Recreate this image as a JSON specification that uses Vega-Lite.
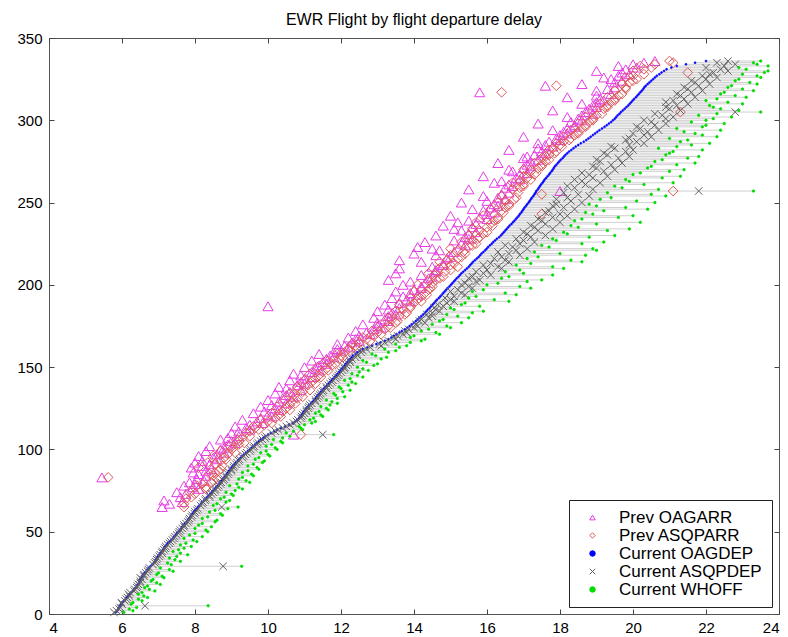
{
"$schema": "https://vega.github.io/schema/vega-lite/v6.json",
"width": 730, "height": 576,
"autosize": {"type": "none"},
"padding": {"left": 49, "top": 38, "right": 9, "bottom": 23},
"background": "white",
"title": {"text": "EWR Flight by flight departure delay", "fontSize": 16, "fontWeight": "normal", "font": "Liberation Sans", "color": "black", "anchor": "middle", "offset": 3},
"config": {
  "view": {"stroke": "#555", "strokeWidth": 1},
  "axis": {"grid": false, "domain": false, "tickColor": "#444", "tickWidth": 1, "tickSize": -5, "labelFontSize": 15, "labelFont": "Liberation Sans", "labelColor": "black", "title": null},
  "legend": {"orient": "bottom-right", "offset": 7, "title": null, "labelFont": "Liberation Sans", "labelFontSize": 17, "labelColor": "black", "symbolSize": 30, "symbolStrokeWidth": 1, "fillColor": "white", "strokeColor": "#222", "padding": 9, "rowPadding": 0, "symbolOffset": 6, "labelOffset": 18}
},
"data": {"values": [
{"y":1,"o":5.83,"a":5.78,"w":6.05},
{"y":2,"o":5.87,"a":5.85,"w":6.3},
{"y":3,"o":5.9,"a":5.92,"w":6.2},
{"y":4,"o":5.92,"a":5.95,"w":6.4},
{"y":5,"o":5.95,"a":6.63,"w":8.36},
{"y":6,"o":5.98,"a":6.0,"w":6.25},
{"y":7,"o":6.0,"a":5.98,"w":6.3},
{"y":8,"o":6.05,"a":6.08,"w":6.55},
{"y":9,"o":6.1,"a":6.12,"w":6.45},
{"y":10,"o":6.13,"a":6.15,"w":6.7},
{"y":11,"o":6.17,"a":6.2,"w":6.6},
{"y":12,"o":6.2,"a":6.18,"w":6.45},
{"y":13,"o":6.25,"a":6.22,"w":6.55},
{"y":14,"o":6.3,"a":6.33,"w":6.9},
{"y":15,"o":6.33,"a":6.35,"w":6.75},
{"y":16,"o":6.37,"a":6.4,"w":6.62},
{"y":17,"o":6.4,"a":6.42,"w":6.7},
{"y":18,"o":6.43,"a":6.45,"w":7.05},
{"y":19,"o":6.47,"a":6.5,"w":6.95},
{"y":20,"o":6.48,"a":6.5,"w":6.8},
{"y":21,"o":6.5,"a":6.55,"w":6.85},
{"y":22,"o":6.52,"a":6.5,"w":7.15},
{"y":23,"o":6.55,"a":6.6,"w":7.1},
{"y":24,"o":6.58,"a":6.6,"w":6.95},
{"y":25,"o":6.62,"a":6.65,"w":7.0},
{"y":26,"o":6.67,"a":6.7,"w":7.4},
{"y":27,"o":6.7,"a":6.72,"w":7.3},
{"y":28,"o":6.73,"a":6.75,"w":7.05},
{"y":29,"o":6.78,"a":8.77,"w":9.28},
{"y":30,"o":6.83,"a":6.85,"w":7.35},
{"y":31,"o":6.87,"a":6.9,"w":7.25},
{"y":32,"o":6.9,"a":6.92,"w":7.6},
{"y":33,"o":6.92,"a":6.95,"w":7.45},
{"y":34,"o":6.95,"a":6.97,"w":7.3},
{"y":35,"o":6.98,"a":7.02,"w":7.5},
{"y":36,"o":7.02,"a":7.05,"w":7.8},
{"y":37,"o":7.05,"a":7.1,"w":7.6},
{"y":38,"o":7.08,"a":7.1,"w":7.4},
{"y":39,"o":7.12,"a":7.15,"w":7.55},
{"y":40,"o":7.15,"a":7.18,"w":7.7},
{"y":41,"o":7.18,"a":7.2,"w":7.9},
{"y":42,"o":7.22,"a":7.25,"w":7.6},
{"y":43,"o":7.25,"a":7.3,"w":7.75},
{"y":44,"o":7.3,"a":7.33,"w":8.05},
{"y":45,"o":7.35,"a":7.38,"w":7.95},
{"y":46,"o":7.4,"a":7.42,"w":7.7},
{"y":47,"o":7.43,"a":7.45,"w":8.2},
{"y":48,"o":7.47,"a":7.5,"w":7.85},
{"y":49,"o":7.5,"a":7.55,"w":8.0},
{"y":50,"o":7.55,"a":7.57,"w":8.35},
{"y":51,"o":7.58,"a":7.6,"w":8.3},
{"y":52,"o":7.62,"a":7.65,"w":8.0},
{"y":53,"o":7.65,"a":7.7,"w":8.45},
{"y":54,"o":7.68,"a":7.7,"w":8.1},
{"y":55,"o":7.72,"a":7.75,"w":8.2},
{"y":56,"o":7.77,"a":7.8,"w":8.55},
{"y":57,"o":7.8,"a":7.83,"w":8.6},
{"y":58,"o":7.83,"a":7.85,"w":8.2},
{"y":59,"o":7.87,"a":7.9,"w":8.35},
{"y":60,"o":7.9,"a":7.92,"w":8.75},
{"y":61,"o":7.93,"a":7.98,"w":8.7},
{"y":62,"o":7.97,"a":8.0,"w":8.4},
{"y":63,"o":8.0,"a":8.05,"w":8.55},
{"y":64,"o":8.04,"a":8.08,"w":8.9},
{"y":65,"o":8.08,"a":8.73,"w":9.18,"p":7.1,"q":7.7},
{"y":66,"o":8.12,"a":8.15,"w":8.5},
{"y":67,"o":8.17,"a":8.2,"w":8.6,"p":7.3,"q":7.7},
{"y":68,"o":8.2,"a":8.22,"w":8.85,"p":7.65},
{"y":69,"o":8.25,"a":8.28,"w":8.95,"p":7.15},
{"y":70,"o":8.29,"a":8.3,"w":8.7,"q":7.75},
{"y":71,"o":8.33,"a":8.4,"w":8.8,"p":7.6,"q":7.9},
{"y":72,"o":8.37,"a":8.4,"w":9.05},
{"y":73,"o":8.42,"a":8.45,"w":9.0,"p":7.75,"q":8.0},
{"y":74,"o":8.46,"a":8.5,"w":8.85,"p":7.5,"q":7.85},
{"y":75,"o":8.5,"a":8.55,"w":9.1},
{"y":76,"o":8.54,"a":8.56,"w":9.3,"p":8.1,"q":8.3},
{"y":77,"o":8.58,"a":8.62,"w":9.2,"p":7.95,"q":8.3},
{"y":78,"o":8.62,"a":8.65,"w":8.95,"p":7.7,"q":8.05},
{"y":79,"o":8.67,"a":8.7,"w":9.15,"p":8.0,"q":8.2},
{"y":80,"o":8.7,"a":8.72,"w":9.5,"p":7.85,"q":8.45},
{"y":81,"o":8.73,"a":8.78,"w":9.4,"p":8.25,"q":8.5},
{"y":82,"o":8.77,"a":8.8,"w":9.2,"p":8.05,"q":8.6},
{"y":83,"o":8.8,"a":8.85,"w":9.3,"p":5.45,"q":5.62},
{"y":84,"o":8.83,"a":8.85,"w":9.6,"p":8.3,"q":8.5},
{"y":85,"o":8.87,"a":8.9,"w":9.55,"p":8.1,"q":8.4},
{"y":86,"o":8.9,"a":8.93,"w":9.3,"p":7.95,"q":8.55},
{"y":87,"o":8.93,"a":9.0,"w":9.45,"p":8.3,"q":8.65},
{"y":88,"o":8.97,"a":9.0,"w":9.75,"p":8.45,"q":8.7},
{"y":89,"o":9.0,"a":9.05,"w":9.7,"p":7.9,"q":8.1},
{"y":90,"o":9.04,"a":9.07,"w":9.45,"p":8.2,"q":8.75},
{"y":91,"o":9.08,"a":9.12,"w":9.6,"p":8.4,"q":8.55},
{"y":92,"o":9.12,"a":9.15,"w":9.85,"p":8.0,"q":8.35},
{"y":93,"o":9.17,"a":9.2,"w":9.9,"p":8.2,"q":8.7},
{"y":94,"o":9.2,"a":9.22,"w":9.65,"p":8.6,"q":8.85},
{"y":95,"o":9.25,"a":9.3,"w":9.75,"p":8.5,"q":8.8},
{"y":96,"o":9.3,"a":9.33,"w":10.05,"p":8.1,"q":8.5},
{"y":97,"o":9.35,"a":9.38,"w":10.0,"p":8.6,"q":8.9},
{"y":98,"o":9.4,"a":9.42,"w":9.8,"p":8.8,"q":9.1},
{"y":99,"o":9.45,"a":9.5,"w":9.95,"p":8.3,"q":8.7},
{"y":100,"o":9.5,"a":9.53,"w":10.25,"p":8.7,"q":9.0},
{"y":101,"o":9.55,"a":9.6,"w":10.2,"p":8.8,"q":9.05},
{"y":102,"o":9.6,"a":9.62,"w":9.95,"p":8.4,"q":8.95},
{"y":103,"o":9.65,"a":9.7,"w":10.1,"p":8.9,"q":9.2},
{"y":104,"o":9.7,"a":9.73,"w":10.4,"p":9.1,"q":9.35},
{"y":105,"o":9.75,"a":9.8,"w":10.35,"p":9.0,"q":9.2},
{"y":106,"o":9.8,"a":9.85,"w":10.15,"p":8.7,"q":9.15},
{"y":107,"o":9.87,"a":9.92,"w":10.4,"p":8.9,"q":9.3},
{"y":108,"o":9.93,"a":9.95,"w":10.6,"p":9.2,"q":9.5},
{"y":109,"o":10.0,"a":11.5,"w":11.8,"p":10.7,"q":10.9},
{"y":110,"o":10.08,"a":10.1,"w":10.5,"p":9.0,"q":9.4},
{"y":111,"o":10.17,"a":10.2,"w":10.7,"p":9.2,"q":9.5},
{"y":112,"o":10.25,"a":10.28,"w":10.95,"p":9.5,"q":9.75},
{"y":113,"o":10.35,"a":10.4,"w":10.9,"p":9.4,"q":9.65},
{"y":114,"o":10.47,"a":10.5,"w":10.85,"p":9.1,"q":9.6},
{"y":115,"o":10.58,"a":10.6,"w":11.0,"p":9.5,"q":9.9},
{"y":116,"o":10.68,"a":10.7,"w":11.2,"p":9.85,"q":10.1},
{"y":117,"o":10.75,"a":10.78,"w":11.3,"p":9.7,"q":10.0},
{"y":118,"o":10.8,"a":10.82,"w":11.15,"p":9.3,"q":9.8},
{"y":119,"o":10.85,"a":10.9,"w":11.25,"p":9.8,"q":10.2},
{"y":120,"o":10.88,"a":10.92,"w":11.5,"p":10.1,"q":10.35},
{"y":121,"o":10.92,"a":10.95,"w":11.45,"p":10.0,"q":10.3},
{"y":122,"o":10.95,"a":11.0,"w":11.3,"p":9.6,"q":10.1},
{"y":123,"o":10.98,"a":11.05,"w":11.4,"p":9.9,"q":10.4},
{"y":124,"o":11.02,"a":11.05,"w":11.65,"p":10.3,"q":10.6},
{"y":125,"o":11.05,"a":11.1,"w":11.6,"p":10.2,"q":10.5},
{"y":126,"o":11.1,"a":11.12,"w":11.45,"p":9.8,"q":10.25},
{"y":127,"o":11.13,"a":11.15,"w":11.7,"p":10.1,"q":10.6},
{"y":128,"o":11.18,"a":11.2,"w":11.9,"p":10.5,"q":10.75},
{"y":129,"o":11.22,"a":11.3,"w":11.75,"p":10.3,"q":10.65},
{"y":130,"o":11.26,"a":11.3,"w":11.6,"p":10.0,"q":10.45},
{"y":131,"o":11.3,"a":11.35,"w":11.9,"p":10.4,"q":10.8},
{"y":132,"o":11.33,"a":11.38,"w":12.1,"p":10.7,"q":10.95},
{"y":133,"o":11.37,"a":11.42,"w":11.85,"p":10.5,"q":10.7},
{"y":134,"o":11.41,"a":11.45,"w":11.8,"p":10.2,"q":10.6},
{"y":135,"o":11.45,"a":11.5,"w":12.05,"p":10.6,"q":10.95},
{"y":136,"o":11.49,"a":11.52,"w":12.25,"p":10.9,"q":11.15},
{"y":137,"o":11.53,"a":11.6,"w":12.0,"p":10.5,"q":10.85},
{"y":138,"o":11.57,"a":11.6,"w":11.95,"p":10.3,"q":10.8},
{"y":139,"o":11.62,"a":11.65,"w":12.2,"p":10.8,"q":11.1},
{"y":140,"o":11.66,"a":11.7,"w":12.4,"p":11.0,"q":11.3},
{"y":141,"o":11.7,"a":11.75,"w":12.3,"p":10.9,"q":11.2},
{"y":142,"o":11.74,"a":11.78,"w":12.1,"p":10.6,"q":11.0},
{"y":143,"o":11.78,"a":11.85,"w":12.25,"p":11.0,"q":11.3},
{"y":144,"o":11.83,"a":11.88,"w":12.6,"p":11.2,"q":11.45},
{"y":145,"o":11.87,"a":11.92,"w":12.45,"p":10.9,"q":11.4},
{"y":146,"o":11.91,"a":11.95,"w":12.3,"p":10.7,"q":11.15},
{"y":147,"o":11.95,"a":12.0,"w":12.5,"p":11.2,"q":11.5},
{"y":148,"o":11.98,"a":12.05,"w":12.75,"p":11.4,"q":11.65},
{"y":149,"o":12.02,"a":12.1,"w":12.6,"p":11.3,"q":11.6},
{"y":150,"o":12.06,"a":12.1,"w":12.45,"p":11.0,"q":11.35},
{"y":151,"o":12.1,"a":12.15,"w":12.9,"p":11.4,"q":11.75},
{"y":152,"o":12.13,"a":12.2,"w":13.0,"p":11.6,"q":11.85},
{"y":153,"o":12.17,"a":12.25,"w":12.7,"p":11.5,"q":11.7},
{"y":154,"o":12.21,"a":12.25,"w":12.6,"p":11.2,"q":11.6},
{"y":155,"o":12.25,"a":12.3,"w":13.1,"p":11.6,"q":11.95},
{"y":156,"o":12.29,"a":12.4,"w":13.25,"p":11.8,"q":12.05},
{"y":157,"o":12.33,"a":12.45,"w":12.95,"p":11.7,"q":12.0},
{"y":158,"o":12.4,"a":12.45,"w":12.85,"p":11.4,"q":11.9},
{"y":159,"o":12.45,"a":12.55,"w":13.3,"p":11.8,"q":12.1},
{"y":160,"o":12.52,"a":12.6,"w":13.5,"p":12.0,"q":12.25},
{"y":161,"o":12.6,"a":12.7,"w":13.2,"p":11.9,"q":12.2},
{"y":162,"o":12.72,"a":12.8,"w":13.6,"p":12.2,"q":12.45},
{"y":163,"o":12.85,"a":13.1,"w":13.8,"p":12.1,"q":12.4},
{"y":164,"o":12.97,"a":13.05,"w":13.5,"p":11.9,"q":12.3},
{"y":165,"o":13.08,"a":13.2,"w":13.9,"p":12.3,"q":12.5},
{"y":166,"o":13.2,"a":13.3,"w":14.2,"p":12.5,"q":12.8},
{"y":167,"o":13.3,"a":13.5,"w":14.3,"p":12.4,"q":12.7},
{"y":168,"o":13.38,"a":13.45,"w":13.9,"p":12.2,"q":12.6},
{"y":169,"o":13.45,"a":13.55,"w":14.0,"p":12.5,"q":12.9},
{"y":170,"o":13.52,"a":13.7,"w":14.7,"p":12.8,"q":13.1},
{"y":171,"o":13.6,"a":13.8,"w":14.6,"p":12.7,"q":13.0},
{"y":172,"o":13.67,"a":13.75,"w":14.2,"p":12.4,"q":12.85},
{"y":173,"o":13.75,"a":13.85,"w":14.4,"p":12.9,"q":13.2},
{"y":174,"o":13.82,"a":14.0,"w":15.0,"p":13.1,"q":13.35},
{"y":175,"o":13.88,"a":14.1,"w":14.9,"p":13.0,"q":13.3},
{"y":176,"o":13.94,"a":14.05,"w":14.5,"p":12.6,"q":13.1},
{"y":177,"o":14.0,"a":14.3,"w":15.3,"p":13.0,"q":13.5},
{"y":178,"o":14.05,"a":14.15,"w":14.7,"p":13.3,"q":13.55},
{"y":179,"o":14.1,"a":14.2,"w":14.8,"p":13.2,"q":13.4},
{"y":180,"o":14.15,"a":14.4,"w":15.5,"p":12.9,"q":13.3},
{"y":181,"o":14.2,"a":14.5,"w":15.2,"p":13.3,"q":13.6},
{"y":182,"o":14.25,"a":14.35,"w":14.9,"p":13.5,"q":13.75},
{"y":183,"o":14.3,"a":14.5,"w":15.6,"p":13.4,"q":13.8},
{"y":184,"o":14.34,"a":14.7,"w":15.9,"p":13.0,"q":13.5},
{"y":185,"o":14.38,"a":14.6,"w":15.1,"p":13.3,"q":13.7},
{"y":186,"o":14.43,"a":14.55,"w":15.0,"p":13.6,"q":13.9},
{"y":187,"o":14.47,"a":14.8,"w":15.8,"p":10.0,"q":13.9},
{"y":188,"o":14.51,"a":14.65,"w":15.3,"p":13.2,"q":13.6},
{"y":189,"o":14.55,"a":14.9,"w":15.4,"p":13.6,"q":14.0},
{"y":190,"o":14.59,"a":15.1,"w":16.6,"p":13.9,"q":14.2},
{"y":191,"o":14.63,"a":15.0,"w":16.2,"p":13.8,"q":14.1},
{"y":192,"o":14.68,"a":14.85,"w":15.5,"p":13.4,"q":13.9},
{"y":193,"o":14.72,"a":15.1,"w":15.7,"p":13.7,"q":14.2},
{"y":194,"o":14.76,"a":15.4,"w":16.8,"p":14.1,"q":14.35},
{"y":195,"o":14.8,"a":15.3,"w":16.5,"p":13.9,"q":14.3},
{"y":196,"o":14.84,"a":15.0,"w":15.6,"p":13.5,"q":14.0},
{"y":197,"o":14.88,"a":15.2,"w":15.9,"p":14.0,"q":14.4},
{"y":198,"o":14.92,"a":15.6,"w":17.2,"p":14.2,"q":14.45},
{"y":199,"o":14.97,"a":15.5,"w":16.9,"p":14.2,"q":14.5},
{"y":200,"o":15.01,"a":15.3,"w":16.0,"p":13.7,"q":14.1},
{"y":201,"o":15.05,"a":15.4,"w":16.3,"p":14.3,"q":14.5},
{"y":202,"o":15.09,"a":15.7,"w":17.1,"p":13.9,"q":14.4},
{"y":203,"o":15.13,"a":15.8,"w":17.5,"p":13.3,"q":14.6},
{"y":204,"o":15.17,"a":15.5,"w":16.4,"p":14.4,"q":14.7},
{"y":205,"o":15.22,"a":15.6,"w":16.6,"p":14.5,"q":14.8},
{"y":206,"o":15.26,"a":16.1,"w":17.8,"p":14.2,"q":14.55},
{"y":207,"o":15.3,"a":15.9,"w":17.0,"p":13.5,"q":14.4},
{"y":208,"o":15.35,"a":15.7,"w":16.5,"p":14.6,"q":14.85},
{"y":209,"o":15.4,"a":16.0,"w":16.9,"p":14.6,"q":15.0},
{"y":210,"o":15.45,"a":16.4,"w":18.1,"p":13.6,"q":14.7},
{"y":211,"o":15.5,"a":16.3,"w":17.8,"p":14.5,"q":15.2},
{"y":212,"o":15.54,"a":15.9,"w":16.8,"p":14.8,"q":15.0},
{"y":213,"o":15.58,"a":16.1,"w":17.2,"p":14.8,"q":15.1},
{"y":214,"o":15.62,"a":16.6,"w":18.6,"p":14.2,"q":14.7},
{"y":215,"o":15.67,"a":16.5,"w":18.3,"p":13.6,"q":14.9},
{"y":216,"o":15.72,"a":16.2,"w":17.1,"p":14.9,"q":15.2},
{"y":217,"o":15.77,"a":16.4,"w":17.4,"p":15.0,"q":15.3},
{"y":218,"o":15.81,"a":16.9,"w":18.7,"p":14.6,"q":15.0},
{"y":219,"o":15.85,"a":16.6,"w":18.0,"p":14.0,"q":15.4},
{"y":220,"o":15.9,"a":16.3,"w":17.3,"p":15.1,"q":15.35},
{"y":221,"o":15.95,"a":16.8,"w":19.0,"p":14.7,"q":15.2},
{"y":222,"o":15.99,"a":17.1,"w":18.9,"p":14.5,"q":15.0},
{"y":223,"o":16.03,"a":16.7,"w":17.7,"p":14.1,"q":15.5},
{"y":224,"o":16.08,"a":16.5,"w":17.5,"p":15.4,"q":15.6},
{"y":225,"o":16.13,"a":16.9,"w":18.6,"p":15.3,"q":15.7},
{"y":226,"o":16.17,"a":17.3,"w":19.2,"p":14.3,"q":15.3},
{"y":227,"o":16.22,"a":17.0,"w":17.9,"p":15.1,"q":15.6},
{"y":228,"o":16.27,"a":16.8,"w":17.8,"p":15.5,"q":15.75},
{"y":229,"o":16.33,"a":17.2,"w":18.8,"p":15.4,"q":15.8},
{"y":230,"o":16.38,"a":17.6,"w":19.5,"p":14.6,"q":15.5},
{"y":231,"o":16.42,"a":17.1,"w":18.2,"p":15.5,"q":15.9},
{"y":232,"o":16.46,"a":17.0,"w":18.1,"p":15.7,"q":16.0},
{"y":233,"o":16.5,"a":17.4,"w":19.3,"p":15.3,"q":15.8},
{"y":234,"o":16.54,"a":17.8,"w":19.9,"p":15.1,"q":15.6},
{"y":235,"o":16.58,"a":17.3,"w":18.5,"p":15.6,"q":16.0},
{"y":236,"o":16.62,"a":17.2,"w":18.3,"p":14.8,"q":16.15},
{"y":237,"o":16.67,"a":17.6,"w":19.0,"p":15.7,"q":16.1},
{"y":238,"o":16.71,"a":18.0,"w":20.2,"p":15.2,"q":15.7},
{"y":239,"o":16.75,"a":17.5,"w":18.4,"p":15.5,"q":16.2},
{"y":240,"o":16.79,"a":17.4,"w":18.6,"p":16.0,"q":16.3},
{"y":241,"o":16.83,"a":17.8,"w":19.6,"p":15.8,"q":16.3},
{"y":242,"o":16.87,"a":18.2,"w":20.0,"p":15.0,"q":15.9},
{"y":243,"o":16.9,"a":18.0,"w":18.9,"p":16.0,"q":17.5},
{"y":244,"o":16.94,"a":17.6,"w":18.7,"p":16.2,"q":16.45},
{"y":245,"o":16.97,"a":17.7,"w":19.2,"p":15.9,"q":16.4},
{"y":246,"o":17.0,"a":18.4,"w":20.4,"p":15.6,"q":16.1},
{"y":247,"o":17.03,"a":18.1,"w":19.8,"p":16.1,"q":16.5},
{"y":248,"o":17.07,"a":17.8,"w":19.0,"p":16.3,"q":16.6},
{"y":249,"o":17.1,"a":17.9,"w":18.8,"p":16.2,"q":16.6},
{"y":250,"o":17.14,"a":18.6,"w":20.6,"p":15.3,"q":16.3},
{"y":251,"o":17.17,"a":18.3,"w":20.1,"p":16.0,"q":16.5},
{"y":252,"o":17.2,"a":17.9,"w":19.1,"p":16.5,"q":16.75},
{"y":253,"o":17.23,"a":18.2,"w":19.4,"p":16.3,"q":16.8},
{"y":254,"o":17.27,"a":18.8,"w":20.9,"p":15.9,"q":16.4},
{"y":255,"o":17.3,"a":18.5,"w":20.5,"p":16.4,"q":17.5},
{"y":256,"o":17.33,"a":18.1,"w":19.3,"p":16.6,"q":16.85},
{"y":257,"o":17.35,"a":21.8,"w":23.3,"p":18.0,"q":21.1},
{"y":258,"o":17.39,"a":18.9,"w":20.7,"p":15.5,"q":16.7},
{"y":259,"o":17.42,"a":18.4,"w":19.7,"p":16.5,"q":16.9},
{"y":260,"o":17.45,"a":18.2,"w":19.5,"p":16.7,"q":17.0},
{"y":261,"o":17.48,"a":18.7,"w":20.3,"p":16.6,"q":17.0},
{"y":262,"o":17.52,"a":19.1,"w":21.1,"p":16.2,"q":16.7},
{"y":263,"o":17.55,"a":18.6,"w":19.9,"p":16.4,"q":16.9},
{"y":264,"o":17.58,"a":18.4,"w":19.8,"p":16.9,"q":17.2},
{"y":265,"o":17.62,"a":18.9,"w":20.8,"p":16.8,"q":17.1},
{"y":266,"o":17.66,"a":19.3,"w":21.3,"p":15.9,"q":17.0},
{"y":267,"o":17.7,"a":18.8,"w":20.0,"p":16.9,"q":17.3},
{"y":268,"o":17.73,"a":18.6,"w":20.2,"p":17.1,"q":17.35},
{"y":269,"o":17.77,"a":19.2,"w":21.0,"p":16.7,"q":17.2},
{"y":270,"o":17.8,"a":19.5,"w":21.4,"p":16.6,"q":17.0},
{"y":271,"o":17.83,"a":19.0,"w":20.4,"p":17.0,"q":17.4},
{"y":272,"o":17.86,"a":18.9,"w":20.5,"p":17.2,"q":17.5},
{"y":273,"o":17.9,"a":19.4,"w":21.2,"p":17.1,"q":17.5},
{"y":274,"o":17.94,"a":19.7,"w":21.7,"p":16.3,"q":17.3},
{"y":275,"o":17.98,"a":19.1,"w":20.6,"p":17.2,"q":17.6},
{"y":276,"o":18.02,"a":19.0,"w":20.8,"p":17.4,"q":17.7},
{"y":277,"o":18.07,"a":19.6,"w":21.5,"p":17.0,"q":17.5},
{"y":278,"o":18.11,"a":19.9,"w":21.8,"p":17.1,"q":17.6},
{"y":279,"o":18.15,"a":19.3,"w":20.9,"p":17.3,"q":17.7},
{"y":280,"o":18.2,"a":19.2,"w":21.0,"p":17.6,"q":17.85},
{"y":281,"o":18.25,"a":19.8,"w":21.1,"p":17.5,"q":17.9},
{"y":282,"o":18.31,"a":20.0,"w":21.9,"p":16.6,"q":17.7},
{"y":283,"o":18.37,"a":19.5,"w":20.7,"p":17.4,"q":17.8},
{"y":284,"o":18.43,"a":19.4,"w":21.2,"p":17.8,"q":18.05},
{"y":285,"o":18.5,"a":19.9,"w":21.6,"p":17.6,"q":18.0},
{"y":286,"o":18.57,"a":20.3,"w":22.1,"p":17.4,"q":17.9},
{"y":287,"o":18.65,"a":20.1,"w":21.3,"p":17.7,"q":18.1},
{"y":288,"o":18.72,"a":19.8,"w":21.5,"p":18.0,"q":18.25},
{"y":289,"o":18.78,"a":19.9,"w":21.0,"p":17.9,"q":18.3},
{"y":290,"o":18.84,"a":20.5,"w":22.3,"p":17.0,"q":18.1},
{"y":291,"o":18.9,"a":20.3,"w":21.9,"p":18.0,"q":18.4},
{"y":292,"o":18.96,"a":20.0,"w":21.7,"p":18.2,"q":18.5},
{"y":293,"o":19.02,"a":20.4,"w":21.4,"p":18.1,"q":18.5},
{"y":294,"o":19.08,"a":20.7,"w":22.4,"p":17.8,"q":18.3},
{"y":295,"o":19.15,"a":20.2,"w":21.2,"p":18.2,"q":18.6},
{"y":296,"o":19.22,"a":20.1,"w":21.9,"p":18.4,"q":18.7},
{"y":297,"o":19.28,"a":20.6,"w":22.0,"p":18.4,"q":18.7},
{"y":298,"o":19.34,"a":20.9,"w":22.5,"p":17.4,"q":18.5},
{"y":299,"o":19.4,"a":20.5,"w":21.6,"p":18.3,"q":18.8},
{"y":300,"o":19.45,"a":20.3,"w":22.0,"p":18.6,"q":18.9},
{"y":301,"o":19.5,"a":20.9,"w":22.2,"p":18.5,"q":18.9},
{"y":302,"o":19.54,"a":21.1,"w":22.7,"p":18.2,"q":18.7},
{"y":303,"o":19.58,"a":20.8,"w":21.8,"p":18.6,"q":19.0},
{"y":304,"o":19.63,"a":20.6,"w":22.3,"p":18.9,"q":19.15},
{"y":305,"o":19.67,"a":22.8,"w":23.5,"p":18.7,"q":21.3},
{"y":306,"o":19.72,"a":21.3,"w":22.9,"p":17.8,"q":18.9},
{"y":307,"o":19.77,"a":21.0,"w":22.4,"p":18.8,"q":19.2},
{"y":308,"o":19.82,"a":20.9,"w":22.2,"p":19.0,"q":19.3},
{"y":309,"o":19.87,"a":21.2,"w":22.1,"p":18.9,"q":19.3},
{"y":310,"o":19.91,"a":21.5,"w":23.0,"p":18.6,"q":19.1},
{"y":311,"o":19.95,"a":20.9,"w":22.6,"p":19.0,"q":19.4},
{"y":312,"o":19.99,"a":21.1,"w":22.0,"p":19.2,"q":19.5},
{"y":313,"o":20.03,"a":21.4,"w":22.3,"p":19.1,"q":19.5},
{"y":314,"o":20.08,"a":21.7,"w":23.1,"p":18.2,"q":19.3},
{"y":315,"o":20.12,"a":21.3,"w":22.8,"p":19.0,"q":19.6},
{"y":316,"o":20.16,"a":21.2,"w":22.4,"p":19.4,"q":19.7},
{"y":317,"o":20.2,"a":21.6,"w":22.5,"p":15.8,"q":16.4},
{"y":318,"o":20.24,"a":21.9,"w":23.3,"p":19.0,"q":19.5},
{"y":319,"o":20.28,"a":21.5,"w":23.0,"p":19.3,"q":19.8},
{"y":320,"o":20.31,"a":21.4,"w":22.6,"p":19.5,"q":19.8},
{"y":321,"o":20.35,"a":21.8,"w":22.7,"p":17.6,"q":17.9},
{"y":322,"o":20.4,"a":22.1,"w":23.4,"p":18.6,"q":19.7},
{"y":323,"o":20.45,"a":21.7,"w":23.2,"p":19.5,"q":19.9},
{"y":324,"o":20.5,"a":21.6,"w":22.8,"p":19.7,"q":20.0},
{"y":325,"o":20.55,"a":22.0,"w":22.9,"p":19.4,"q":20.1},
{"y":326,"o":20.6,"a":22.3,"w":23.5,"p":19.2,"q":19.8},
{"y":327,"o":20.65,"a":21.9,"w":23.4,"p":19.6,"q":20.0},
{"y":328,"o":20.72,"a":22.1,"w":23.0,"p":19.9,"q":20.3},
{"y":329,"o":20.78,"a":22.2,"w":23.6,"p":19.7,"q":21.5},
{"y":330,"o":20.85,"a":22.6,"w":23.7,"p":19.0,"q":20.0},
{"y":331,"o":20.92,"a":22.4,"w":23.1,"p":19.8,"q":20.3},
{"y":332,"o":21.05,"a":22.0,"w":22.9,"p":20.1,"q":20.5},
{"y":333,"o":21.2,"a":22.5,"w":23.7,"p":19.6,"q":20.2},
{"y":334,"o":21.45,"a":22.8,"w":23.4,"p":20.0,"q":20.6},
{"y":335,"o":21.7,"a":22.3,"w":23.3,"p":20.3,"q":21.1},
{"y":336,"o":22.0,"a":22.6,"w":23.5,"p":20.6,"q":21.0}
]},
"layer": [
  {"mark": {"type": "rule", "color": "#cfcfcf", "strokeWidth": 1},
   "encoding": {
     "x": {"field": "o", "type": "quantitative", "scale": {"domain": [4, 24]}, "axis": {"orient": "top", "labels": false, "values": [4,6,8,10,12,14,16,18,20,22,24]}},
     "x2": {"field": "w"},
     "y": {"field": "y", "type": "quantitative", "scale": {"domain": [0, 350]}, "axis": {"orient": "right", "labels": false, "values": [0,50,100,150,200,250,300,350]}}
   }},
  {"transform": [{"fold": ["p"], "as": ["series", "t"]}],
   "mark": {"type": "point", "size": 105, "strokeWidth": 1, "opacity": 1},
   "encoding": {
     "x": {"field": "t", "type": "quantitative", "axis": {"orient": "bottom", "values": [4,6,8,10,12,14,16,18,20,22,24], "labelPadding": 11}},
     "y": {"field": "y", "type": "quantitative", "axis": {"orient": "left", "values": [0,50,100,150,200,250,300,350], "labelPadding": 12}},
     "shape": {"field": "series", "type": "nominal", "scale": {"domain": ["p","q","o","a","w"], "range": ["triangle-up","diamond","circle","M-1,-1L1,1M-1,1L1,-1","circle"]}, "legend": {"labelExpr": "{'p':'Prev OAGARR','q':'Prev ASQPARR','o':'Current OAGDEP','a':'Current ASQPDEP','w':'Current WHOFF'}[datum.label]"}},
     "stroke": {"field": "series", "type": "nominal", "scale": {"domain": ["p","q","o","a","w"], "range": ["#e63ce6","#de5a5a","#0000ff","#606060","#00dd00"]}, "legend": {"labelExpr": "{'p':'Prev OAGARR','q':'Prev ASQPARR','o':'Current OAGDEP','a':'Current ASQPDEP','w':'Current WHOFF'}[datum.label]"}},
     "fill": {"field": "series", "type": "nominal", "scale": {"domain": ["p","q","o","a","w"], "range": ["transparent","transparent","#0000ff","transparent","#00dd00"]}, "legend": {"labelExpr": "{'p':'Prev OAGARR','q':'Prev ASQPARR','o':'Current OAGDEP','a':'Current ASQPDEP','w':'Current WHOFF'}[datum.label]"}}
   }},
  {"transform": [{"fold": ["q"], "as": ["series", "t"]}],
   "mark": {"type": "point", "size": 95, "strokeWidth": 1, "opacity": 1},
   "encoding": {
     "x": {"field": "t", "type": "quantitative", "axis": null},
     "y": {"field": "y", "type": "quantitative", "axis": null},
     "shape": {"field": "series", "type": "nominal"},
     "stroke": {"field": "series", "type": "nominal"},
     "fill": {"field": "series", "type": "nominal"}
   }},
  {"transform": [{"fold": ["o"], "as": ["series", "t"]}],
   "mark": {"type": "point", "size": 4, "strokeWidth": 0.6, "opacity": 1},
   "encoding": {
     "x": {"field": "t", "type": "quantitative", "axis": null},
     "y": {"field": "y", "type": "quantitative", "axis": null},
     "shape": {"field": "series", "type": "nominal"},
     "stroke": {"field": "series", "type": "nominal"},
     "fill": {"field": "series", "type": "nominal"}
   }},
  {"transform": [{"fold": ["a"], "as": ["series", "t"]}],
   "mark": {"type": "point", "size": 55, "strokeWidth": 1, "opacity": 1},
   "encoding": {
     "x": {"field": "t", "type": "quantitative", "axis": null},
     "y": {"field": "y", "type": "quantitative", "axis": null},
     "shape": {"field": "series", "type": "nominal"},
     "stroke": {"field": "series", "type": "nominal"},
     "fill": {"field": "series", "type": "nominal"}
   }},
  {"transform": [{"fold": ["w"], "as": ["series", "t"]}],
   "mark": {"type": "point", "size": 6, "strokeWidth": 0.8, "opacity": 1},
   "encoding": {
     "x": {"field": "t", "type": "quantitative", "axis": null},
     "y": {"field": "y", "type": "quantitative", "axis": null},
     "shape": {"field": "series", "type": "nominal"},
     "stroke": {"field": "series", "type": "nominal"},
     "fill": {"field": "series", "type": "nominal"}
   }}
],
"resolve": {"axis": {"x": "independent", "y": "independent"}}
}
